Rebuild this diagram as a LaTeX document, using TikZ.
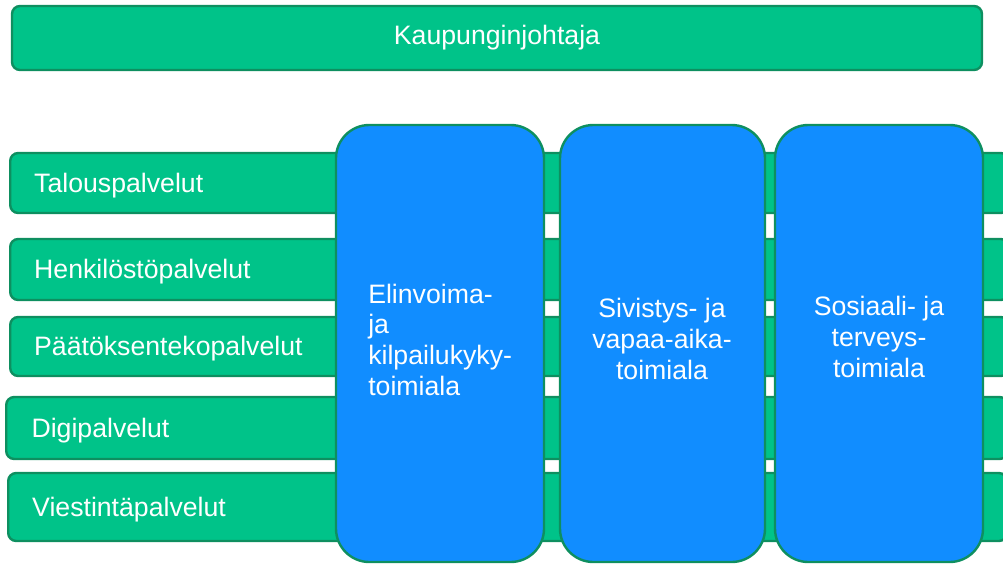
\documentclass[tikz,border=0pt]{standalone}
\usepackage{fontspec}
\setmainfont{Liberation Sans}
\definecolor{barfill}{RGB}{0,195,137}
\definecolor{barline}{RGB}{14,143,96}
\definecolor{areafill}{RGB}{17,141,255}
\tikzset{
  bar/.style={draw=barline, fill=barfill, line width=1.8pt, rounded corners=6pt,
    text=white, font=\fontsize{20}{23}\selectfont},
  rowbar/.style={bar, anchor=west, inner xsep=18pt, align=left, text width=713pt,
    text height=14pt, text depth=0pt},
  area/.style={draw=barline, fill=areafill, line width=1.8pt, rounded corners=25pt,
    minimum height=327.75pt, inner sep=0pt},
  arealabel/.style={text=white, font=\fontsize{20}{23}\selectfont, inner sep=0pt}
}
\begin{document}
\begin{tikzpicture}[x=0.75pt,y=-0.75pt]
\clip (0,0) rectangle (1003,564);

% johto
\node[bar, minimum width=727.5pt, minimum height=48pt] (johto) at (497,38) {Kaupunginjohtaja};

% palvelut
\node[rowbar, minimum height=45pt] (talous) at (9,183) {Talouspalvelut};
\node[rowbar, minimum height=45.75pt] (henkilo) at (9,269.5) {Henkilöstöpalvelut};
\node[rowbar, minimum height=44.25pt] (paatos) at (9,346.5) {Päätöksentekopalvelut};
\node[rowbar, minimum height=46.5pt, inner xsep=19pt] (digi) at (5,428) {Digipalvelut};
\node[rowbar, minimum height=51pt, inner xsep=18pt] (viestinta) at (7,507) {Viestintäpalvelut};

% toimialat
\node[area, minimum width=156pt] (elinvoima) at (440,343.5) {};
\node[area, minimum width=153.75pt] (sivistys) at (662.5,343.5) {};
\node[area, minimum width=156pt] (sosiaali) at (879,343.5) {};

\node[arealabel, anchor=west, align=left] (elinvoimateksti) at (368,339.5)
  {Elinvoima-\\ja\\kilpailukyky-\\toimiala};
\node[arealabel, align=center] (sivistysteksti) at (662,339)
  {Sivistys- ja\\vapaa-aika-\\toimiala};
\node[arealabel, align=center] (sosiaaliteksti) at (879,337)
  {Sosiaali- ja\\terveys-\\toimiala};

\end{tikzpicture}
\end{document}
